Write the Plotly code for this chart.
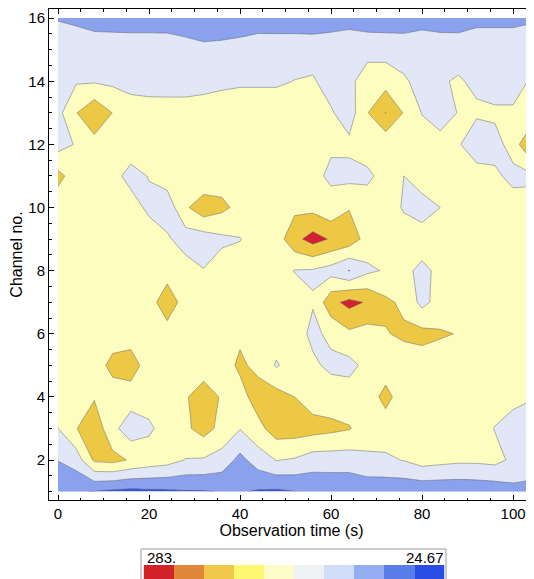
import plotly.graph_objects as go

# ---------------- data ----------------
times = list(range(0, 105, 4))          # observation time (s)
channels = list(range(1, 17))           # channel no.

ch01 = [70, 55, 48, 40, 35, 40, 42, 46, 47, 52, 55, 45, 42, 49, 60, 62, 62, 65, 65, 62, 62, 62, 62, 65, 68, 85, 80]
ch02 = [101, 123, 208, 215, 195, 180, 170, 148, 145, 130, 85, 125, 152, 145, 125, 125, 125, 140, 142, 152, 172, 165, 160, 160, 165, 140, 135]
ch03 = [149, 198, 232, 165, 120, 140, 175, 190, 220, 185, 152, 185, 225, 225, 220, 212, 203, 175, 175, 175, 175, 175, 175, 175, 148, 135, 135]
ch04 = [175, 175, 196, 175, 175, 175, 175, 195, 225, 195, 180, 225, 220, 200, 175, 175, 175, 175, 215, 175, 175, 175, 175, 175, 175, 160, 152]
ch05 = [175, 175, 175, 215, 225, 175, 175, 175, 175, 175, 210, 185, 145, 175, 158, 140, 135, 165, 175, 175, 175, 175, 175, 175, 175, 175, 175]
ch06 = [175, 175, 175, 175, 175, 175, 175, 175, 175, 175, 190, 175, 175, 170, 140, 160, 190, 180, 197, 208, 215, 205, 198, 175, 175, 175, 175]
ch07 = [175, 175, 175, 175, 175, 175, 235, 175, 175, 175, 175, 175, 175, 175, 153, 235, 265, 245, 210, 190, 135, 170, 175, 175, 175, 175, 175]
ch08 = [175, 175, 175, 175, 175, 175, 175, 175, 152, 175, 175, 175, 175, 148, 145, 130, 98, 140, 155, 160, 140, 160, 175, 175, 175, 175, 175]
ch09 = [175, 175, 175, 175, 175, 175, 158, 125, 125, 140, 148, 175, 175, 235, 270, 245, 230, 180, 175, 175, 172, 160, 175, 175, 175, 175, 175]
ch10 = [170, 175, 175, 175, 170, 140, 120, 192, 232, 212, 185, 175, 175, 188, 185, 165, 197, 175, 175, 145, 130, 150, 175, 175, 175, 175, 170]
ch11 = [215, 175, 175, 165, 135, 152, 175, 175, 155, 175, 175, 175, 175, 175, 160, 143, 135, 140, 168, 150, 175, 175, 175, 175, 160, 135, 140]
ch12 = [130, 154, 182, 175, 175, 175, 175, 175, 175, 175, 175, 175, 175, 175, 155, 155, 161, 175, 166, 199, 175, 165, 155, 115, 130, 172, 255]
ch13 = [135, 198, 240, 199, 175, 175, 175, 175, 175, 175, 175, 175, 175, 175, 175, 155, 125, 198, 251, 197, 148, 130, 152, 158, 160, 160, 160]
ch14 = [130, 145, 145, 140, 132, 126, 125, 125, 132, 140, 144, 144, 144, 151, 155, 130, 135, 180, 180, 156, 135, 145, 155, 140, 120, 120, 158]
ch15 = [130, 130, 130, 130, 130, 130, 130, 120, 115, 115, 120, 130, 130, 130, 130, 130, 130, 130, 130, 130, 130, 130, 130, 130, 130, 130, 130]
ch16 = [97, 90, 78, 76, 74, 74, 73, 70, 55, 65, 69, 72, 71, 71, 69, 76, 83, 76, 74, 72, 82, 75, 74, 87, 87, 87, 94]

z_values = [ch01, ch02, ch03, ch04, ch05, ch06, ch07, ch08,
            ch09, ch10, ch11, ch12, ch13, ch14, ch15, ch16]

contour_start, contour_end, contour_step = 50, 250, 50
band_colors = ["#3452E4", "#8AA2EE", "#E2E7F8", "#FDFDC0", "#EDC845", "#D42030"]

legend_colors = ["#D2232A", "#E0883A", "#F0C84A", "#FEF870", "#FEFCC8",
                 "#EFF2F4", "#D0DCF8", "#93ADF0", "#5A7EE8", "#2C4CE8"]
legend_labels = ["283.", "24.67"]

x_ticks = [0, 20, 40, 60, 80, 100]
y_ticks = [2, 4, 6, 8, 10, 12, 14, 16]

# ---------------- figure geometry ----------------
# the page body adds an 8 px offset; the figure is sized so that it ends at the window edge
OFF = 8
WIN_W, WIN_H = 534, 579
W, H = WIN_W - OFF, WIN_H - OFF
frame_left, frame_top, frame_bottom = 49, 9, 500      # window pixels
ML, MR, MT, MB = frame_left - OFF, 0, frame_top - OFF, 0
pw, ph = W - ML - MR, H - MT - MB
x_range = [-1.98, 104.6]
y_range = [0.734, 16.29]


def py_to_paper(py):          # window pixel -> paper fraction
    return (H - MB - (py - OFF)) / ph


def px_to_paper(px):
    return (px - OFF - ML) / pw


ymain0 = py_to_paper(frame_bottom)

nb = len(band_colors)
cs = []
for i, c in enumerate(band_colors):
    cs.append([i / nb, c])
    cs.append([(i + 1) / nb, c])

fig = go.Figure()
fig.add_trace(go.Contour(
    x=times, y=channels, z=z_values,
    zmin=0, zmax=contour_end + contour_step,
    colorscale=cs,
    contours=dict(start=contour_start, end=contour_end, size=contour_step, coloring="fill"),
    line=dict(color="rgba(95,95,95,0.6)", width=0.8, smoothing=0),
    showscale=False, hoverinfo="skip",
))

nl = len(legend_colors)
lcs = []
for i, c in enumerate(legend_colors):
    lcs.append([i / nl, c])
    lcs.append([(i + 1) / nl, c])
fig.add_trace(go.Heatmap(
    z=[list(range(nl))], x=list(range(nl)), y=[0],
    colorscale=lcs, zmin=-0.5, zmax=nl - 0.5, showscale=False,
    xaxis="x2", yaxis="y2", hoverinfo="skip",
))

font_family = "Liberation Sans, Arial, sans-serif"
axis_common = dict(
    showline=True, linecolor="black", linewidth=1,
    ticks="inside", ticklen=5, tickcolor="black", tickwidth=1,
    showgrid=False, zeroline=False, automargin=False,
    tickfont=dict(family=font_family, size=15, color="black"),
)

fig.update_layout(
    width=W, height=H,
    margin=dict(l=ML, r=MR, t=MT, b=MB, autoexpand=False),
    paper_bgcolor="white", plot_bgcolor="white",
    showlegend=False,
    xaxis=dict(
        domain=[0, 1], anchor="y", range=x_range,
        tickvals=x_ticks, mirror="ticks",
        minor=dict(dtick=5, tick0=0, ticks="inside", ticklen=2.5, tickcolor="black"),
        title=dict(text="Observation time (s)", font=dict(family=font_family, size=16, color="black"), standoff=3),
        **axis_common,
    ),
    yaxis=dict(
        domain=[ymain0, 1], anchor="x", range=y_range,
        tickvals=y_ticks, mirror=False,
        minor=dict(dtick=0.5, tick0=0, ticks="inside", ticklen=2.5, tickcolor="black"),
        title=dict(text="Channel no.", font=dict(family=font_family, size=16, color="black"), standoff=4),
        **axis_common,
    ),
    xaxis2=dict(domain=[px_to_paper(143.6), px_to_paper(444.4)], anchor="y2",
                range=[-0.5, nl - 0.5], visible=False),
    yaxis2=dict(domain=[0, py_to_paper(565)], anchor="x2", range=[-0.5, 0.5], visible=False),
)

shapes = [dict(type="rect", xref="paper", yref="paper",
               x0=px_to_paper(141), x1=px_to_paper(446), y0=-0.1, y1=py_to_paper(549),
               line=dict(color="#9a9a9a", width=1), fillcolor="rgba(0,0,0,0)", layer="above")]
fig.update_layout(shapes=shapes)

fig.add_annotation(text=legend_labels[0], xref="paper", yref="paper",
                   x=px_to_paper(145), y=py_to_paper(557), xanchor="left", yanchor="middle",
                   showarrow=False, font=dict(family=font_family, size=15, color="black"))
fig.add_annotation(text=legend_labels[1], xref="paper", yref="paper",
                   x=px_to_paper(445.5), y=py_to_paper(557), xanchor="right", yanchor="middle",
                   showarrow=False, font=dict(family=font_family, size=15, color="black"))

fig.write_html("out.html")
